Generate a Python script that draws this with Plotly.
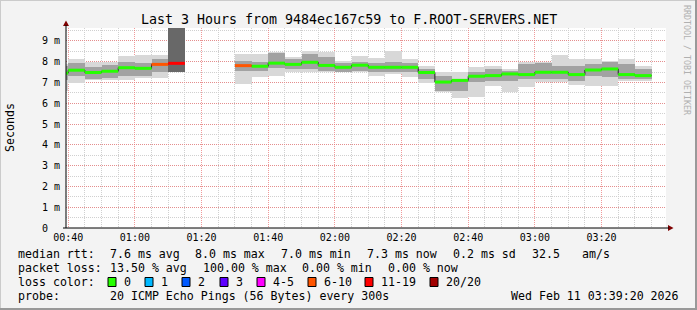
import plotly.graph_objects as go
from datetime import datetime, timedelta

# ---------------- data ----------------
step_starts = ["00:35", "00:40", "00:45", "00:50", "00:55", "01:00", "01:05", "01:10",
               "01:15", "01:20", "01:25", "01:30", "01:35", "01:40", "01:45", "01:50",
               "01:55", "02:00", "02:05", "02:10", "02:15", "02:20", "02:25", "02:30",
               "02:35", "02:40", "02:45", "02:50", "02:55", "03:00", "03:05", "03:10",
               "03:15", "03:20", "03:25", "03:30"]
# median rtt in ms (None = 20/20 lost)
median_ms = [7.45, 7.59, 7.48, 7.54, 7.71, 7.68, 7.87, 7.92,
             None, None, None, 7.81, 7.78, 7.93, 7.87, 7.97,
             7.82, 7.73, 7.83, 7.73, 7.73, 7.73, 7.48, 7.02,
             7.10, 7.30, 7.33, 7.41, 7.38, 7.49, 7.49, 7.38,
             7.60, 7.65, 7.38, 7.33]
# loss bucket index into loss_labels
loss_bucket = [0, 0, 0, 0, 0, 0, 5, 6,
               7, 7, 7, 5, 0, 0, 0, 0,
               0, 0, 0, 0, 0, 0, 0, 0,
               0, 0, 0, 0, 0, 0, 0, 0,
               0, 0, 0, 0]
# smoke: outer (all pings) and inner (core) ranges in ms
smoke_lo = [6.60, 6.98, 7.10, 7.10, 7.13, 7.20, 7.20, 7.52,
            None, None, None, 6.94, 7.25, 7.33, 7.49, 7.49,
            7.49, 7.49, 7.49, 7.33, 7.41, 7.25, 6.98, 6.53,
            6.24, 6.29, 6.85, 6.53, 6.77, 7.01, 7.01, 6.88,
            6.82, 6.82, 7.09, 7.09]
smoke_hi = [7.90, 8.13, 8.00, 8.00, 8.29, 8.32, 8.32, 9.62,
            None, None, None, 8.37, 8.37, 8.48, 8.21, 8.53,
            8.48, 8.05, 8.29, 8.16, 8.53, 8.13, 7.81, 7.52,
            7.49, 7.73, 7.81, 7.65, 7.97, 8.00, 8.32, 8.13,
            8.13, 8.05, 8.13, 7.81]
core_lo = [7.10, 7.33, 7.17, 7.20, 7.33, 7.33, 7.49, 7.52,
           None, None, None, 7.57, 7.57, 7.68, 7.65, 7.65,
           7.57, 7.52, 7.57, 7.49, 7.49, 7.49, 7.17, 6.61,
           6.61, 7.01, 7.09, 7.09, 7.17, 7.17, 7.17, 7.09,
           7.33, 7.25, 7.17, 7.17]
core_hi = [7.80, 7.94, 7.73, 7.84, 7.97, 7.94, 8.13, 9.62,
           None, None, None, 8.05, 7.97, 8.41, 8.13, 8.37,
           8.21, 7.94, 8.00, 7.94, 7.97, 7.94, 7.65, 7.33,
           7.17, 7.49, 7.65, 7.57, 7.89, 7.94, 7.81, 7.81,
           7.89, 7.97, 7.89, 7.65]

loss_labels = ["0", "1", "2", "3", "4-5", "6-10", "11-19", "20/20"]
loss_colors = ["#26ff00", "#00b8ff", "#0059ff", "#5e00ff", "#ff00ff", "#ff5500", "#ff0000", "#a10000"]

y_tick_vals = [0, 1, 2, 3, 4, 5, 6, 7, 8, 9]
y_tick_text = ["0\u00a0\u00a0", "1\u00a0m", "2\u00a0m", "3\u00a0m", "4\u00a0m", "5\u00a0m",
               "6\u00a0m", "7\u00a0m", "8\u00a0m", "9\u00a0m"]

title_text = "Last 3 Hours from 9484ec167c59 to F.ROOT-SERVERS.NET"
legend_rows = [
    [(16, "median rtt:"), (108, "7.6 ms avg"), (193, "8.0 ms max"), (279, "7.0 ms min"),
     (365, "7.3 ms now"), (451, "0.2 ms sd"), (530, "32.5"), (580, "am/s")],
    [(16, "packet loss:"), (108, "13.50 % avg"), (201, "100.00 % max"), (300, "0.00 % min"),
     (386, "0.00 % now")],
    [(16, "loss color:")],
    [(16, "probe:"), (108, "20 ICMP Echo Pings (56 Bytes) every 300s")],
]
legend_box_x = [108, 145, 182, 220, 257, 308, 365, 430]
stamp_text = "Wed Feb 11 03:39:20 2026"

# ---------------- geometry ----------------
W, H = 697, 310
L, R, T, B = 66, 31, 28, 82
PW, PH = W - L - R, H - T - B
def px(x): return (x - L) / PW
def py(y): return (T + PH - y) / PH

day = "2026-02-11 "
t_start = datetime.fromisoformat(day + "00:39:20")
t_end = datetime.fromisoformat(day + "03:39:20")
step = timedelta(minutes=5)
starts = [datetime.fromisoformat(day + s) for s in step_starts]
centers = [s + step / 2 for s in starts]

fig = go.Figure()

def band(lo, hi, color_fn):
    xs, bs, hs, cs = [], [], [], []
    for c, a, b, lb in zip(centers, lo, hi, loss_bucket):
        if a is None or b is None:
            continue
        xs.append(c); bs.append(a); hs.append(b - a); cs.append(color_fn(lb))
    fig.add_trace(go.Bar(x=xs, y=hs, base=bs, width=300000, marker_color=cs,
                         marker_line_width=0, hoverinfo="skip", showlegend=False))

# smoke gets darker when few pings came back
band(smoke_lo, smoke_hi, lambda lb: "#d8d8d8")
band(core_lo, core_hi, lambda lb: "#686868" if lb >= 6 else "#a2a2a2")

# dark median step line
mx = starts + [starts[-1] + step]
my = median_ms + [median_ms[-1]]
fig.add_trace(go.Scatter(x=mx, y=my, mode="lines", line=dict(color="#202020", width=1, shape="hv"),
                         connectgaps=False, hoverinfo="skip", showlegend=False))

# coloured median segments per loss bucket
for bi, col in enumerate(loss_colors):
    xs, ys = [], []
    for s, m, lb in zip(starts, median_ms, loss_bucket):
        if m is None or lb != bi:
            continue
        xs += [s, s + step, None]
        ys += [m, m, None]
    if xs:
        fig.add_trace(go.Scatter(x=xs, y=ys, mode="lines", line=dict(color=col, width=3),
                                 hoverinfo="skip", showlegend=False))

mono = "DejaVu Sans Mono"
shapes = []
annotations = []

# axis arrows
shapes.append(dict(type="path", xref="paper", yref="paper",
                   path=f"M {px(668)} {py(225)} L {px(673.5)} {py(228)} L {px(668)} {py(231)} Z",
                   fillcolor="#7f0000", line=dict(width=0)))
shapes.append(dict(type="path", xref="paper", yref="paper",
                   path=f"M {px(63)} {py(26)} L {px(66)} {py(20.5)} L {px(69)} {py(26)} Z",
                   fillcolor="#7f0000", line=dict(width=0)))
shapes.append(dict(type="line", xref="paper", yref="paper", x0=px(66), x1=px(66), y0=py(228), y1=py(25),
                   line=dict(color="#000000", width=1)))
shapes.append(dict(type="line", xref="paper", yref="paper", x0=px(63), x1=px(669), y0=py(228), y1=py(228),
                   line=dict(color="#000000", width=1)))
# frame
shapes.append(dict(type="line", xref="paper", yref="paper", x0=px(0), x1=px(697), y0=py(0.5), y1=py(0.5),
                   line=dict(color="#cbcbcb", width=1)))
shapes.append(dict(type="line", xref="paper", yref="paper", x0=px(0.5), x1=px(0.5), y0=py(0), y1=py(310),
                   line=dict(color="#cbcbcb", width=1)))
shapes.append(dict(type="line", xref="paper", yref="paper", x0=px(0), x1=px(697), y0=py(309), y1=py(309),
                   line=dict(color="#999999", width=2)))
shapes.append(dict(type="line", xref="paper", yref="paper", x0=px(696), x1=px(696), y0=py(0), y1=py(310),
                   line=dict(color="#999999", width=2)))

annotations.append(dict(text=title_text, xref="paper", yref="paper", x=px(348.5), y=py(19),
                        xanchor="center", yanchor="middle", showarrow=False,
                        font=dict(family=mono, size=13.3, color="#000000")))
annotations.append(dict(text="Seconds", xref="paper", yref="paper", x=px(10), y=py(128),
                        xanchor="center", yanchor="middle", showarrow=False, textangle=-90,
                        font=dict(family=mono, size=11.6, color="#000000")))
annotations.append(dict(text="RRDTOOL / TOBI OETIKER", xref="paper", yref="paper", x=px(687), y=py(60),
                        xanchor="center", yanchor="middle", showarrow=False, textangle=90,
                        font=dict(family=mono, size=8.3, color="#b0b0b0")))

row_y = [254, 268, 282, 296]
for ry, row in zip(row_y, legend_rows):
    for xx, txt in row:
        annotations.append(dict(text=txt.replace(" ", "\u00a0"), xref="paper", yref="paper", x=px(xx), y=py(ry),
                                xanchor="left", yanchor="middle", showarrow=False,
                                font=dict(family=mono, size=11.6, color="#000000")))
for bx, lab, col in zip(legend_box_x, loss_labels, loss_colors):
    shapes.append(dict(type="rect", xref="paper", yref="paper", x0=px(bx), x1=px(bx + 8),
                       y0=py(row_y[2] - 4.5), y1=py(row_y[2] + 4.5), fillcolor=col,
                       line=dict(color="#000000", width=1)))
    annotations.append(dict(text=lab, xref="paper", yref="paper", x=px(bx + 14), y=py(row_y[2]),
                            xanchor="left", yanchor="middle", showarrow=False,
                            font=dict(family=mono, size=11.6, color="#000000")))
annotations.append(dict(text=stamp_text.replace(" ", "\u00a0"), xref="paper", yref="paper", x=px(681), y=py(row_y[3]),
                        xanchor="right", yanchor="middle", showarrow=False,
                        font=dict(family=mono, size=11.6, color="#000000")))

fig.update_layout(
    width=W, height=H, margin=dict(l=L, r=R, t=T, b=B),
    paper_bgcolor="#f3f3f3", plot_bgcolor="#ffffff",
    barmode="overlay", bargap=0, showlegend=False,
    shapes=shapes, annotations=annotations,
    xaxis=dict(type="date", range=[t_start, t_end],
               tick0=day + "00:40:00", dtick=20 * 60 * 1000, tickformat="%H:%M",
               showgrid=True, gridcolor="rgba(235,120,120,0.75)", griddash="1px,1px", gridwidth=1,
               minor=dict(dtick=5 * 60 * 1000, showgrid=True, gridcolor="#d0d0d0", griddash="1px,1px", gridwidth=1),
               ticks="", showline=False, zeroline=False, ticklabelstandoff=2,
               tickfont=dict(family=mono, size=10, color="#000000"), fixedrange=True),
    yaxis=dict(range=[0, 9.62], tickvals=y_tick_vals, ticktext=y_tick_text,
               showgrid=True, gridcolor="rgba(235,120,120,0.75)", griddash="1px,1px", gridwidth=1,
               minor=dict(dtick=0.5, showgrid=True, gridcolor="#d0d0d0", griddash="1px,1px", gridwidth=1),
               ticks="", showline=False, zeroline=False, ticklabelstandoff=5,
               tickfont=dict(family=mono, size=10, color="#000000"), fixedrange=True),
)

fig.write_html("out.html")
